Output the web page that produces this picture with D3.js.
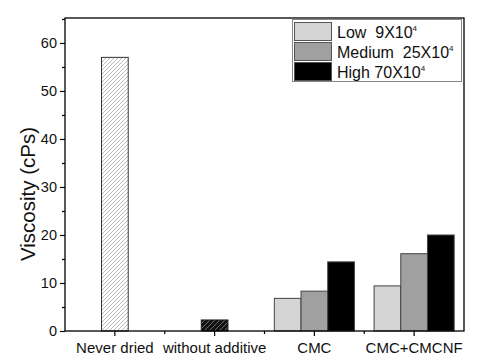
<!DOCTYPE html>
<html><head><meta charset="utf-8">
<script src="https://cdn.jsdelivr.net/npm/d3@7"></script>
<style>body{margin:0;background:#fff}svg{display:block;font-family:"Liberation Sans",Arial,sans-serif}</style>
</head><body><svg id="c" width="480" height="362"></svg>
<script>
const categories = ["Never dried","without additive","CMC","CMC+CMCNF"];
const singleValues = [57.0, 2.3, null, null];
const seriesNames = ["Low  9X10","Medium  25X10","High 70X10"];
const seriesSup = ["4","4","4"];
const seriesColors = ["#d4d4d4","#a0a0a0","#000000"];
const lowValues = [null, null, 6.8, 9.4];
const mediumValues = [null, null, 8.3, 16.1];
const highValues = [null, null, 14.4, 20.0];
const yTicks = [0,10,20,30,40,50,60];

const svg = d3.select("#c");
const L=65,R=464,T=18,B=331;
const x = d3.scaleBand().domain(categories).range([L,R]).padding(0);
const y = d3.scaleLinear().domain([0,65.2]).range([B,T]);
const barW = 26.7;

const defs = svg.append("defs");
const p1 = defs.append("pattern").attr("id","h1").attr("patternUnits","userSpaceOnUse").attr("width",4).attr("height",4);
p1.append("rect").attr("width",4).attr("height",4).attr("fill","#fff");
p1.append("path").attr("d","M-1,1 l2,-2 M0,4 l4,-4 M3,5 l2,-2").attr("stroke","#aaa").attr("stroke-width",0.8);
const p2 = defs.append("pattern").attr("id","h2").attr("patternUnits","userSpaceOnUse").attr("width",5).attr("height",5);
p2.append("rect").attr("width",5).attr("height",5).attr("fill","#111");
p2.append("path").attr("d","M-1,1 l2,-2 M0,5 l5,-5 M4,6 l2,-2").attr("stroke","#777").attr("stroke-width",0.9);

const fills = ["url(#h1)","url(#h2)"];
svg.append("g").selectAll("rect").data(categories.map((c,i)=>({c,v:singleValues[i],i})).filter(d=>d.v!=null))
 .join("rect")
 .attr("x",d=>x(d.c)+x.bandwidth()/2-barW/2).attr("width",barW)
 .attr("y",d=>y(d.v)).attr("height",d=>y(0)-y(d.v))
 .attr("fill",d=>fills[d.i]).attr("stroke",d=>d.i===0?"#333":"#222").attr("stroke-width",1);

const series = [lowValues, mediumValues, highValues];
const xs = d3.scaleBand().domain([0,1,2]).range([-barW*1.5, barW*1.5]);
series.forEach((vals,si)=>{
  svg.append("g").selectAll("rect").data(categories.map((c,i)=>({c,v:vals[i]})).filter(d=>d.v!=null))
   .join("rect")
   .attr("x",d=>x(d.c)+x.bandwidth()/2+xs(si)).attr("width",xs.bandwidth())
   .attr("y",d=>y(d.v)).attr("height",d=>y(0)-y(d.v))
   .attr("fill",seriesColors[si]).attr("stroke","#444").attr("stroke-width",1);
});

svg.append("rect").attr("x",L).attr("y",T).attr("width",R-L).attr("height",B-T).attr("fill","none").attr("stroke","#000").attr("stroke-width",1.3);

const yAx = svg.append("g").attr("transform",`translate(${L},0)`)
  .call(d3.axisLeft(y).tickValues(yTicks).tickSize(5).tickPadding(3));
yAx.select(".domain").remove();
yAx.selectAll("text").attr("font-size",14.5).attr("fill","#111");
yAx.selectAll("line").attr("stroke-width",1.2);
svg.append("g").attr("transform",`translate(${L},0)`)
  .call(d3.axisLeft(y).tickValues([5,15,25,35,45,55,65]).tickSize(3).tickFormat(""))
  .call(g=>g.select(".domain").remove()).selectAll("line").attr("stroke-width",1.2);

const xAx = svg.append("g").attr("transform",`translate(0,${B})`)
  .call(d3.axisBottom(x).tickSize(5).tickPadding(6));
xAx.select(".domain").remove();
xAx.selectAll("text").attr("font-size",15).attr("fill","#111");
xAx.selectAll("line").attr("stroke-width",1.2);
svg.append("g").selectAll("line").data(categories.slice(1)).join("line")
  .attr("x1",d=>x(d)).attr("x2",d=>x(d)).attr("y1",B).attr("y2",B+3).attr("stroke","#000").attr("stroke-width",1.2);

svg.append("text").attr("transform",`translate(35,194) rotate(-90)`).attr("text-anchor","middle")
  .attr("font-size",20.5).attr("fill","#111").text("Viscosity (cPs)");

const lg = svg.append("g");
lg.append("rect").attr("x",292.5).attr("y",19.5).attr("width",169).attr("height",62).attr("fill","#fff").attr("stroke","#888").attr("stroke-width",1);
seriesNames.forEach((n,i)=>{
  lg.append("rect").attr("x",294.5).attr("y",22.5+i*20).attr("width",37).attr("height",18).attr("fill",seriesColors[i]).attr("stroke","#555");
  const t = lg.append("text").attr("x",337).attr("y",37.5+i*20).attr("font-size",16).attr("fill","#111").attr("xml:space","preserve");
  t.append("tspan").text(n);
  t.append("tspan").attr("font-size",8).attr("dy",-7).text(seriesSup[i]);
});
</script></body></html>
